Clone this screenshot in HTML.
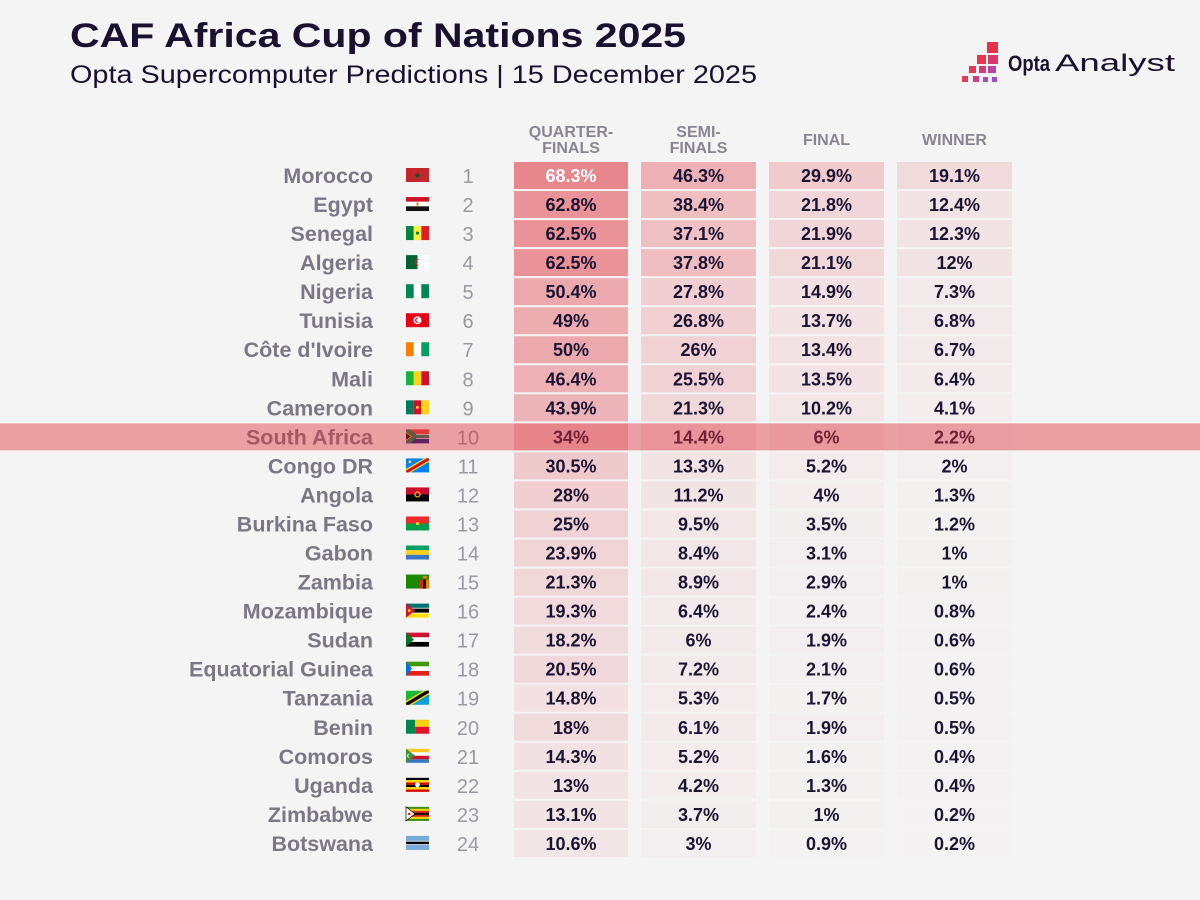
<!DOCTYPE html>
<html>
<head>
<meta charset="utf-8">
<style>
html,body{margin:0;padding:0;background:#f4f4f4;}
svg{display:block;}
.n{font-family:"Liberation Sans",sans-serif;font-weight:bold;font-size:21.5px;fill:#7c7784;text-anchor:end;}
.r{font-family:"Liberation Sans",sans-serif;font-size:20px;fill:#9c98a2;text-anchor:middle;}
.v{font-family:"Liberation Sans",sans-serif;font-weight:bold;font-size:18px;fill:#1c1433;text-anchor:middle;}
.h{font-family:"Liberation Sans",sans-serif;font-weight:bold;font-size:16px;fill:#8a8592;text-anchor:middle;}
.c{fill:#de3441;}
</style>
</head>
<body>
<svg width="1200" height="900" viewBox="0 0 1200 900" xmlns="http://www.w3.org/2000/svg">
<defs>
<clipPath id="lh"><rect width="11.5" height="14"/></clipPath>
</defs>
<rect width="1200" height="900" fill="#f4f4f4"/>

<text x="70" y="47" font-family="Liberation Sans, sans-serif" font-weight="bold" font-size="34" fill="#1a1030" textLength="616" lengthAdjust="spacingAndGlyphs">CAF Africa Cup of Nations 2025</text>
<text x="70" y="83" font-family="Liberation Sans, sans-serif" font-size="25" fill="#1a1030" textLength="687" lengthAdjust="spacingAndGlyphs">Opta Supercomputer Predictions | 15 December 2025</text>

<!-- logo -->
<rect x="987" y="42" width="11" height="11" fill="#e8304a"/>
<rect x="977" y="55" width="9" height="9" fill="#e6364f"/>
<rect x="988" y="55" width="10" height="9" fill="#d8386a"/>
<rect x="969" y="66" width="7" height="7" fill="#e33a55"/>
<rect x="979" y="66" width="7" height="7" fill="#cf3c7c"/>
<rect x="988" y="66" width="8" height="7" fill="#b844a0"/>
<rect x="962" y="76" width="6" height="6" fill="#e23c5a"/>
<rect x="973" y="76" width="6" height="6" fill="#c8408a"/>
<rect x="983" y="77" width="5" height="5" fill="#b048b0"/>
<rect x="992" y="77" width="5" height="5" fill="#9c48cc"/>
<text x="1008" y="71" font-family="Liberation Sans, sans-serif" font-weight="bold" font-size="22" fill="#1a1030" textLength="42" lengthAdjust="spacingAndGlyphs">Opta</text>
<text x="1055" y="71" font-family="Liberation Sans, sans-serif" font-size="24" fill="#1a1030" textLength="120" lengthAdjust="spacingAndGlyphs">Analyst</text>

<!-- headers -->
<text class="h" x="571" y="137">QUARTER-</text>
<text class="h" x="571" y="153">FINALS</text>
<text class="h" x="698.5" y="137">SEMI-</text>
<text class="h" x="698.5" y="153">FINALS</text>
<text class="h" x="826.5" y="145">FINAL</text>
<text class="h" x="954.5" y="145">WINNER</text>

<!-- 1 Morocco -->
<g transform="translate(0,0)">
<text class="n" x="373" y="183">Morocco</text>
<g transform="translate(406,168)"><rect width="23" height="14" fill="#c1272d"/><path d="M11.5,4 L12.3,6.4 L14.8,6.4 L12.8,7.9 L13.5,10.3 L11.5,8.8 L9.5,10.3 L10.2,7.9 L8.2,6.4 L10.7,6.4Z" fill="#0b5a2a"/></g>
<text class="r" x="468" y="183">1</text>
<rect class="c" x="514" y="162" width="114" height="27" fill-opacity="0.574"/>
<rect class="c" x="641" y="162" width="115" height="27" fill-opacity="0.352"/>
<rect class="c" x="769" y="162" width="115" height="27" fill-opacity="0.212"/>
<rect class="c" x="897" y="162" width="115" height="27" fill-opacity="0.132"/>
<text class="v" x="571" y="182" style="fill:#ffffff">68.3%</text>
<text class="v" x="698.5" y="182">46.3%</text>
<text class="v" x="826.5" y="182">29.9%</text>
<text class="v" x="954.5" y="182">19.1%</text>
</g>

<!-- 2 Egypt -->
<g transform="translate(0,29.04)">
<text class="n" x="373" y="183">Egypt</text>
<g transform="translate(406,168)"><rect width="23" height="4.7" fill="#ce1126"/><rect y="4.7" width="23" height="4.6" fill="#fff"/><rect y="9.3" width="23" height="4.7" fill="#111"/><rect x="10.5" y="5.4" width="2" height="3.2" fill="#c09300"/></g>
<text class="r" x="468" y="183">2</text>
<rect class="c" x="514" y="162" width="114" height="27" fill-opacity="0.515"/>
<rect class="c" x="641" y="162" width="115" height="27" fill-opacity="0.282"/>
<rect class="c" x="769" y="162" width="115" height="27" fill-opacity="0.151"/>
<rect class="c" x="897" y="162" width="115" height="27" fill-opacity="0.086"/>
<text class="v" x="571" y="182">62.8%</text>
<text class="v" x="698.5" y="182">38.4%</text>
<text class="v" x="826.5" y="182">21.8%</text>
<text class="v" x="954.5" y="182">12.4%</text>
</g>

<!-- 3 Senegal -->
<g transform="translate(0,58.08)">
<text class="n" x="373" y="183">Senegal</text>
<g transform="translate(406,168)"><rect width="7.7" height="14" fill="#00853f"/><rect x="7.7" width="7.6" height="14" fill="#fdef42"/><rect x="15.3" width="7.7" height="14" fill="#e31b23"/><circle cx="11.5" cy="7" r="1.6" fill="#00853f"/></g>
<text class="r" x="468" y="183">3</text>
<rect class="c" x="514" y="162" width="114" height="27" fill-opacity="0.512"/>
<rect class="c" x="641" y="162" width="115" height="27" fill-opacity="0.271"/>
<rect class="c" x="769" y="162" width="115" height="27" fill-opacity="0.152"/>
<rect class="c" x="897" y="162" width="115" height="27" fill-opacity="0.086"/>
<text class="v" x="571" y="182">62.5%</text>
<text class="v" x="698.5" y="182">37.1%</text>
<text class="v" x="826.5" y="182">21.9%</text>
<text class="v" x="954.5" y="182">12.3%</text>
</g>

<!-- 4 Algeria -->
<g transform="translate(0,87.12)">
<text class="n" x="373" y="183">Algeria</text>
<g transform="translate(406,168)"><rect width="11.5" height="14" fill="#006233"/><rect x="11.5" width="11.5" height="14" fill="#fff"/><circle cx="11.6" cy="7" r="3.2" fill="#d21034"/><circle cx="12.5" cy="7" r="2.6" fill="#fff"/><circle cx="12.5" cy="7" r="2.6" fill="#006233" clip-path="url(#lh)"/></g>
<text class="r" x="468" y="183">4</text>
<rect class="c" x="514" y="162" width="114" height="27" fill-opacity="0.512"/>
<rect class="c" x="641" y="162" width="115" height="27" fill-opacity="0.277"/>
<rect class="c" x="769" y="162" width="115" height="27" fill-opacity="0.146"/>
<rect class="c" x="897" y="162" width="115" height="27" fill-opacity="0.084"/>
<text class="v" x="571" y="182">62.5%</text>
<text class="v" x="698.5" y="182">37.8%</text>
<text class="v" x="826.5" y="182">21.1%</text>
<text class="v" x="954.5" y="182">12%</text>
</g>

<!-- 5 Nigeria -->
<g transform="translate(0,116.16)">
<text class="n" x="373" y="183">Nigeria</text>
<g transform="translate(406,168)"><rect width="23" height="14" fill="#fff"/><rect width="7.7" height="14" fill="#008751"/><rect x="15.3" width="7.7" height="14" fill="#008751"/></g>
<text class="r" x="468" y="183">5</text>
<rect class="c" x="514" y="162" width="114" height="27" fill-opacity="0.391"/>
<rect class="c" x="641" y="162" width="115" height="27" fill-opacity="0.196"/>
<rect class="c" x="769" y="162" width="115" height="27" fill-opacity="0.103"/>
<rect class="c" x="897" y="162" width="115" height="27" fill-opacity="0.054"/>
<text class="v" x="571" y="182">50.4%</text>
<text class="v" x="698.5" y="182">27.8%</text>
<text class="v" x="826.5" y="182">14.9%</text>
<text class="v" x="954.5" y="182">7.3%</text>
</g>

<!-- 6 Tunisia -->
<g transform="translate(0,145.2)">
<text class="n" x="373" y="183">Tunisia</text>
<g transform="translate(406,168)"><rect width="23" height="14" fill="#e70013"/><circle cx="11.5" cy="7" r="4" fill="#fff"/><circle cx="11.8" cy="7" r="2.7" fill="#e70013"/><circle cx="12.6" cy="7" r="2.2" fill="#fff"/></g>
<text class="r" x="468" y="183">6</text>
<rect class="c" x="514" y="162" width="114" height="27" fill-opacity="0.378"/>
<rect class="c" x="641" y="162" width="115" height="27" fill-opacity="0.188"/>
<rect class="c" x="769" y="162" width="115" height="27" fill-opacity="0.095"/>
<rect class="c" x="897" y="162" width="115" height="27" fill-opacity="0.051"/>
<text class="v" x="571" y="182">49%</text>
<text class="v" x="698.5" y="182">26.8%</text>
<text class="v" x="826.5" y="182">13.7%</text>
<text class="v" x="954.5" y="182">6.8%</text>
</g>

<!-- 7 Cote d'Ivoire -->
<g transform="translate(0,174.24)">
<text class="n" x="373" y="183">Côte d'Ivoire</text>
<g transform="translate(406,168)"><rect width="7.7" height="14" fill="#f77f00"/><rect x="7.7" width="7.6" height="14" fill="#fff"/><rect x="15.3" width="7.7" height="14" fill="#009e60"/></g>
<text class="r" x="468" y="183">7</text>
<rect class="c" x="514" y="162" width="114" height="27" fill-opacity="0.387"/>
<rect class="c" x="641" y="162" width="115" height="27" fill-opacity="0.182"/>
<rect class="c" x="769" y="162" width="115" height="27" fill-opacity="0.093"/>
<rect class="c" x="897" y="162" width="115" height="27" fill-opacity="0.051"/>
<text class="v" x="571" y="182">50%</text>
<text class="v" x="698.5" y="182">26%</text>
<text class="v" x="826.5" y="182">13.4%</text>
<text class="v" x="954.5" y="182">6.7%</text>
</g>

<!-- 8 Mali -->
<g transform="translate(0,203.28)">
<text class="n" x="373" y="183">Mali</text>
<g transform="translate(406,168)"><rect width="7.7" height="14" fill="#14b53a"/><rect x="7.7" width="7.6" height="14" fill="#fcd116"/><rect x="15.3" width="7.7" height="14" fill="#ce1126"/></g>
<text class="r" x="468" y="183">8</text>
<rect class="c" x="514" y="162" width="114" height="27" fill-opacity="0.353"/>
<rect class="c" x="641" y="162" width="115" height="27" fill-opacity="0.178"/>
<rect class="c" x="769" y="162" width="115" height="27" fill-opacity="0.094"/>
<rect class="c" x="897" y="162" width="115" height="27" fill-opacity="0.049"/>
<text class="v" x="571" y="182">46.4%</text>
<text class="v" x="698.5" y="182">25.5%</text>
<text class="v" x="826.5" y="182">13.5%</text>
<text class="v" x="954.5" y="182">6.4%</text>
</g>

<!-- 9 Cameroon -->
<g transform="translate(0,232.32)">
<text class="n" x="373" y="183">Cameroon</text>
<g transform="translate(406,168)"><rect width="7.7" height="14" fill="#007a5e"/><rect x="7.7" width="7.6" height="14" fill="#ce1126"/><rect x="15.3" width="7.7" height="14" fill="#fcd116"/><circle cx="11.5" cy="7" r="1.5" fill="#fcd116"/></g>
<text class="r" x="468" y="183">9</text>
<rect class="c" x="514" y="162" width="114" height="27" fill-opacity="0.331"/>
<rect class="c" x="641" y="162" width="115" height="27" fill-opacity="0.147"/>
<rect class="c" x="769" y="162" width="115" height="27" fill-opacity="0.072"/>
<rect class="c" x="897" y="162" width="115" height="27" fill-opacity="0.035"/>
<text class="v" x="571" y="182">43.9%</text>
<text class="v" x="698.5" y="182">21.3%</text>
<text class="v" x="826.5" y="182">10.2%</text>
<text class="v" x="954.5" y="182">4.1%</text>
</g>

<!-- 10 South Africa -->
<g transform="translate(0,261.36)">
<text class="n" x="373" y="183">South Africa</text>
<g transform="translate(406,168)"><rect width="23" height="14" fill="#fff"/><rect width="23" height="4.6" fill="#e03c31"/><rect y="9.4" width="23" height="4.6" fill="#001489"/><polygon points="0,1.2 1.8,0 4,0 10.5,5.4 23,5.4 23,8.6 10.5,8.6 4,14 1.8,14 0,12.8" fill="#007749"/><polygon points="0,2.6 6.2,7 0,11.4" fill="#ffb612"/><polygon points="0,3.6 4.8,7 0,10.4" fill="#000"/></g>
<text class="r" x="468" y="183">10</text>
<rect class="c" x="514" y="162" width="114" height="27" fill-opacity="0.245"/>
<rect class="c" x="641" y="162" width="115" height="27" fill-opacity="0.100"/>
<rect class="c" x="769" y="162" width="115" height="27" fill-opacity="0.046"/>
<rect class="c" x="897" y="162" width="115" height="27" fill-opacity="0.024"/>
<text class="v" x="571" y="182">34%</text>
<text class="v" x="698.5" y="182">14.4%</text>
<text class="v" x="826.5" y="182">6%</text>
<text class="v" x="954.5" y="182">2.2%</text>
</g>

<!-- 11 Congo DR -->
<g transform="translate(0,290.4)">
<text class="n" x="373" y="183">Congo DR</text>
<g transform="translate(406,168)"><rect width="23" height="14" fill="#007fff"/><polygon points="0,10.5 18,0 23,0 23,3.5 5,14 0,14" fill="#f7d618"/><polygon points="0,12.2 20.5,0 23,0 23,1.8 2.5,14 0,14" fill="#ce1021"/><circle cx="4" cy="3.5" r="1.5" fill="#f7d618"/></g>
<text class="r" x="468" y="183">11</text>
<rect class="c" x="514" y="162" width="114" height="27" fill-opacity="0.217"/>
<rect class="c" x="641" y="162" width="115" height="27" fill-opacity="0.092"/>
<rect class="c" x="769" y="162" width="115" height="27" fill-opacity="0.042"/>
<rect class="c" x="897" y="162" width="115" height="27" fill-opacity="0.023"/>
<text class="v" x="571" y="182">30.5%</text>
<text class="v" x="698.5" y="182">13.3%</text>
<text class="v" x="826.5" y="182">5.2%</text>
<text class="v" x="954.5" y="182">2%</text>
</g>

<!-- 12 Angola -->
<g transform="translate(0,319.44)">
<text class="n" x="373" y="183">Angola</text>
<g transform="translate(406,168)"><rect width="23" height="7" fill="#cc092f"/><rect y="7" width="23" height="7" fill="#000"/><circle cx="11.5" cy="7" r="2.5" fill="none" stroke="#ffcb00" stroke-width="1.2"/></g>
<text class="r" x="468" y="183">12</text>
<rect class="c" x="514" y="162" width="114" height="27" fill-opacity="0.197"/>
<rect class="c" x="641" y="162" width="115" height="27" fill-opacity="0.079"/>
<rect class="c" x="769" y="162" width="115" height="27" fill-opacity="0.035"/>
<rect class="c" x="897" y="162" width="115" height="27" fill-opacity="0.019"/>
<text class="v" x="571" y="182">28%</text>
<text class="v" x="698.5" y="182">11.2%</text>
<text class="v" x="826.5" y="182">4%</text>
<text class="v" x="954.5" y="182">1.3%</text>
</g>

<!-- 13 Burkina Faso -->
<g transform="translate(0,348.48)">
<text class="n" x="373" y="183">Burkina Faso</text>
<g transform="translate(406,168)"><rect width="23" height="7" fill="#ef2b2d"/><rect y="7" width="23" height="7" fill="#009e49"/><circle cx="11.5" cy="7" r="1.6" fill="#fcd116"/></g>
<text class="r" x="468" y="183">13</text>
<rect class="c" x="514" y="162" width="114" height="27" fill-opacity="0.175"/>
<rect class="c" x="641" y="162" width="115" height="27" fill-opacity="0.068"/>
<rect class="c" x="769" y="162" width="115" height="27" fill-opacity="0.032"/>
<rect class="c" x="897" y="162" width="115" height="27" fill-opacity="0.019"/>
<text class="v" x="571" y="182">25%</text>
<text class="v" x="698.5" y="182">9.5%</text>
<text class="v" x="826.5" y="182">3.5%</text>
<text class="v" x="954.5" y="182">1.2%</text>
</g>

<!-- 14 Gabon -->
<g transform="translate(0,377.52)">
<text class="n" x="373" y="183">Gabon</text>
<g transform="translate(406,168)"><rect width="23" height="4.7" fill="#009e60"/><rect y="4.7" width="23" height="4.6" fill="#fcd116"/><rect y="9.3" width="23" height="4.7" fill="#3a75c4"/></g>
<text class="r" x="468" y="183">14</text>
<rect class="c" x="514" y="162" width="114" height="27" fill-opacity="0.166"/>
<rect class="c" x="641" y="162" width="115" height="27" fill-opacity="0.061"/>
<rect class="c" x="769" y="162" width="115" height="27" fill-opacity="0.029"/>
<rect class="c" x="897" y="162" width="115" height="27" fill-opacity="0.018"/>
<text class="v" x="571" y="182">23.9%</text>
<text class="v" x="698.5" y="182">8.4%</text>
<text class="v" x="826.5" y="182">3.1%</text>
<text class="v" x="954.5" y="182">1%</text>
</g>

<!-- 15 Zambia -->
<g transform="translate(0,406.56)">
<text class="n" x="373" y="183">Zambia</text>
<g transform="translate(406,168)"><rect width="23" height="14" fill="#198a00"/><rect x="14" y="5" width="3" height="9" fill="#de2010"/><rect x="17" y="5" width="3" height="9" fill="#000"/><rect x="20" y="5" width="3" height="9" fill="#ef7d00"/><rect x="17" y="1.5" width="4" height="2.5" fill="#ef7d00"/></g>
<text class="r" x="468" y="183">15</text>
<rect class="c" x="514" y="162" width="114" height="27" fill-opacity="0.147"/>
<rect class="c" x="641" y="162" width="115" height="27" fill-opacity="0.064"/>
<rect class="c" x="769" y="162" width="115" height="27" fill-opacity="0.028"/>
<rect class="c" x="897" y="162" width="115" height="27" fill-opacity="0.018"/>
<text class="v" x="571" y="182">21.3%</text>
<text class="v" x="698.5" y="182">8.9%</text>
<text class="v" x="826.5" y="182">2.9%</text>
<text class="v" x="954.5" y="182">1%</text>
</g>

<!-- 16 Mozambique -->
<g transform="translate(0,435.6)">
<text class="n" x="373" y="183">Mozambique</text>
<g transform="translate(406,168)"><rect width="23" height="14" fill="#fff"/><rect width="23" height="4.2" fill="#007168"/><rect y="5" width="23" height="4" fill="#000"/><rect y="9.8" width="23" height="4.2" fill="#fce100"/><polygon points="0,0 9,7 0,14" fill="#d21034"/><circle cx="3.2" cy="7" r="1.4" fill="#fce100"/></g>
<text class="r" x="468" y="183">16</text>
<rect class="c" x="514" y="162" width="114" height="27" fill-opacity="0.133"/>
<rect class="c" x="641" y="162" width="115" height="27" fill-opacity="0.049"/>
<rect class="c" x="769" y="162" width="115" height="27" fill-opacity="0.025"/>
<rect class="c" x="897" y="162" width="115" height="27" fill-opacity="0.017"/>
<text class="v" x="571" y="182">19.3%</text>
<text class="v" x="698.5" y="182">6.4%</text>
<text class="v" x="826.5" y="182">2.4%</text>
<text class="v" x="954.5" y="182">0.8%</text>
</g>

<!-- 17 Sudan -->
<g transform="translate(0,464.64)">
<text class="n" x="373" y="183">Sudan</text>
<g transform="translate(406,168)"><rect width="23" height="4.7" fill="#d21034"/><rect y="4.7" width="23" height="4.6" fill="#fff"/><rect y="9.3" width="23" height="4.7" fill="#000"/><polygon points="0,0 8,7 0,14" fill="#007229"/></g>
<text class="r" x="468" y="183">17</text>
<rect class="c" x="514" y="162" width="114" height="27" fill-opacity="0.125"/>
<rect class="c" x="641" y="162" width="115" height="27" fill-opacity="0.046"/>
<rect class="c" x="769" y="162" width="115" height="27" fill-opacity="0.023"/>
<rect class="c" x="897" y="162" width="115" height="27" fill-opacity="0.016"/>
<text class="v" x="571" y="182">18.2%</text>
<text class="v" x="698.5" y="182">6%</text>
<text class="v" x="826.5" y="182">1.9%</text>
<text class="v" x="954.5" y="182">0.6%</text>
</g>

<!-- 18 Equatorial Guinea -->
<g transform="translate(0,493.68)">
<text class="n" x="373" y="183">Equatorial Guinea</text>
<g transform="translate(406,168)"><rect width="23" height="4.7" fill="#3e9a00"/><rect y="4.7" width="23" height="4.6" fill="#fff"/><rect y="9.3" width="23" height="4.7" fill="#e32118"/><polygon points="0,0 6,7 0,14" fill="#0073ce"/></g>
<text class="r" x="468" y="183">18</text>
<rect class="c" x="514" y="162" width="114" height="27" fill-opacity="0.142"/>
<rect class="c" x="641" y="162" width="115" height="27" fill-opacity="0.054"/>
<rect class="c" x="769" y="162" width="115" height="27" fill-opacity="0.024"/>
<rect class="c" x="897" y="162" width="115" height="27" fill-opacity="0.016"/>
<text class="v" x="571" y="182">20.5%</text>
<text class="v" x="698.5" y="182">7.2%</text>
<text class="v" x="826.5" y="182">2.1%</text>
<text class="v" x="954.5" y="182">0.6%</text>
</g>

<!-- 19 Tanzania -->
<g transform="translate(0,522.72)">
<text class="n" x="373" y="183">Tanzania</text>
<g transform="translate(406,168)"><polygon points="0,0 23,0 0,14" fill="#1eb53a"/><polygon points="23,0 23,14 0,14" fill="#00a3dd"/><polygon points="0,10.3 17,0 23,0 23,3.7 6,14 0,14" fill="#fcd116"/><polygon points="0,12 20,0 23,0 23,2 3,14 0,14" fill="#000"/></g>
<text class="r" x="468" y="183">19</text>
<rect class="c" x="514" y="162" width="114" height="27" fill-opacity="0.102"/>
<rect class="c" x="641" y="162" width="115" height="27" fill-opacity="0.042"/>
<rect class="c" x="769" y="162" width="115" height="27" fill-opacity="0.021"/>
<rect class="c" x="897" y="162" width="115" height="27" fill-opacity="0.015"/>
<text class="v" x="571" y="182">14.8%</text>
<text class="v" x="698.5" y="182">5.3%</text>
<text class="v" x="826.5" y="182">1.7%</text>
<text class="v" x="954.5" y="182">0.5%</text>
</g>

<!-- 20 Benin -->
<g transform="translate(0,551.76)">
<text class="n" x="373" y="183">Benin</text>
<g transform="translate(406,168)"><rect width="9.2" height="14" fill="#008751"/><rect x="9.2" width="13.8" height="7" fill="#fcd116"/><rect x="9.2" y="7" width="13.8" height="7" fill="#e8112d"/></g>
<text class="r" x="468" y="183">20</text>
<rect class="c" x="514" y="162" width="114" height="27" fill-opacity="0.124"/>
<rect class="c" x="641" y="162" width="115" height="27" fill-opacity="0.047"/>
<rect class="c" x="769" y="162" width="115" height="27" fill-opacity="0.023"/>
<rect class="c" x="897" y="162" width="115" height="27" fill-opacity="0.015"/>
<text class="v" x="571" y="182">18%</text>
<text class="v" x="698.5" y="182">6.1%</text>
<text class="v" x="826.5" y="182">1.9%</text>
<text class="v" x="954.5" y="182">0.5%</text>
</g>

<!-- 21 Comoros -->
<g transform="translate(0,580.8)">
<text class="n" x="373" y="183">Comoros</text>
<g transform="translate(406,168)"><rect width="23" height="3.5" fill="#ffc61e"/><rect y="3.5" width="23" height="3.5" fill="#fff"/><rect y="7" width="23" height="3.5" fill="#ce1126"/><rect y="10.5" width="23" height="3.5" fill="#3a75c4"/><polygon points="0,0 9,7 0,14" fill="#3d8e33"/><circle cx="3.2" cy="7" r="2" fill="#fff"/><circle cx="3.9" cy="7" r="1.7" fill="#3d8e33"/></g>
<text class="r" x="468" y="183">21</text>
<rect class="c" x="514" y="162" width="114" height="27" fill-opacity="0.099"/>
<rect class="c" x="641" y="162" width="115" height="27" fill-opacity="0.042"/>
<rect class="c" x="769" y="162" width="115" height="27" fill-opacity="0.021"/>
<rect class="c" x="897" y="162" width="115" height="27" fill-opacity="0.014"/>
<text class="v" x="571" y="182">14.3%</text>
<text class="v" x="698.5" y="182">5.2%</text>
<text class="v" x="826.5" y="182">1.6%</text>
<text class="v" x="954.5" y="182">0.4%</text>
</g>

<!-- 22 Uganda -->
<g transform="translate(0,609.84)">
<text class="n" x="373" y="183">Uganda</text>
<g transform="translate(406,168)"><rect width="23" height="2.34" fill="#000"/><rect y="2.33" width="23" height="2.34" fill="#fcdc04"/><rect y="4.66" width="23" height="2.34" fill="#d90000"/><rect y="7" width="23" height="2.34" fill="#000"/><rect y="9.33" width="23" height="2.34" fill="#fcdc04"/><rect y="11.66" width="23" height="2.34" fill="#d90000"/><circle cx="11.5" cy="7" r="2.4" fill="#fff"/></g>
<text class="r" x="468" y="183">22</text>
<rect class="c" x="514" y="162" width="114" height="27" fill-opacity="0.090"/>
<rect class="c" x="641" y="162" width="115" height="27" fill-opacity="0.036"/>
<rect class="c" x="769" y="162" width="115" height="27" fill-opacity="0.019"/>
<rect class="c" x="897" y="162" width="115" height="27" fill-opacity="0.014"/>
<text class="v" x="571" y="182">13%</text>
<text class="v" x="698.5" y="182">4.2%</text>
<text class="v" x="826.5" y="182">1.3%</text>
<text class="v" x="954.5" y="182">0.4%</text>
</g>

<!-- 23 Zimbabwe -->
<g transform="translate(0,638.88)">
<text class="n" x="373" y="183">Zimbabwe</text>
<g transform="translate(406,168)"><rect width="23" height="2" fill="#319208"/><rect y="2" width="23" height="2" fill="#ffd200"/><rect y="4" width="23" height="2" fill="#de2010"/><rect y="6" width="23" height="2" fill="#000"/><rect y="8" width="23" height="2" fill="#de2010"/><rect y="10" width="23" height="2" fill="#ffd200"/><rect y="12" width="23" height="2" fill="#319208"/><polygon points="0,0 9,7 0,14" fill="#fff" stroke="#000" stroke-width="0.7"/><circle cx="3.3" cy="7" r="1.3" fill="#de2010"/></g>
<text class="r" x="468" y="183">23</text>
<rect class="c" x="514" y="162" width="114" height="27" fill-opacity="0.091"/>
<rect class="c" x="641" y="162" width="115" height="27" fill-opacity="0.033"/>
<rect class="c" x="769" y="162" width="115" height="27" fill-opacity="0.018"/>
<rect class="c" x="897" y="162" width="115" height="27" fill-opacity="0.013"/>
<text class="v" x="571" y="182">13.1%</text>
<text class="v" x="698.5" y="182">3.7%</text>
<text class="v" x="826.5" y="182">1%</text>
<text class="v" x="954.5" y="182">0.2%</text>
</g>

<!-- 24 Botswana -->
<g transform="translate(0,667.92)">
<text class="n" x="373" y="183">Botswana</text>
<g transform="translate(406,168)"><rect width="23" height="14" fill="#75aadb"/><rect y="4.9" width="23" height="4.2" fill="#fff"/><rect y="5.7" width="23" height="2.6" fill="#000"/></g>
<text class="r" x="468" y="183">24</text>
<rect class="c" x="514" y="162" width="114" height="27" fill-opacity="0.075"/>
<rect class="c" x="641" y="162" width="115" height="27" fill-opacity="0.029"/>
<rect class="c" x="769" y="162" width="115" height="27" fill-opacity="0.017"/>
<rect class="c" x="897" y="162" width="115" height="27" fill-opacity="0.013"/>
<text class="v" x="571" y="182">10.6%</text>
<text class="v" x="698.5" y="182">3%</text>
<text class="v" x="826.5" y="182">0.9%</text>
<text class="v" x="954.5" y="182">0.2%</text>
</g>

<!-- highlight band for South Africa -->
<rect x="0" y="423.4" width="1200" height="27" fill="rgb(220,50,60)" fill-opacity="0.44"/>
</svg>
</body>
</html>
